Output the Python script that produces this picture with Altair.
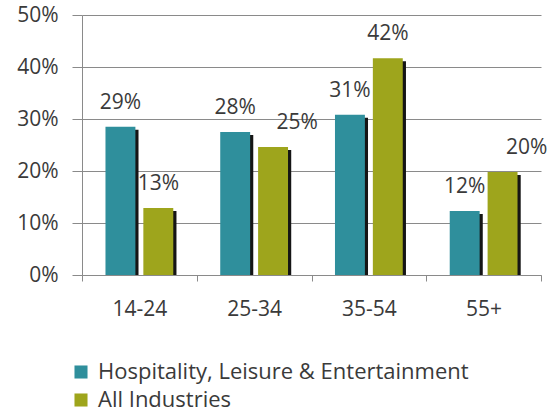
import altair as alt
import pandas as pd

categories = ["14-24", "25-34", "35-54", "55+"]
series = ["Hospitality, Leisure & Entertainment", "All Industries"]
hospitality = [28.5, 27.5, 30.8, 12.3]
all_industries = [12.9, 24.6, 41.7, 19.8]
hosp_labels = ["29%", "28%", "31%", "12%"]
all_labels = ["13%", "25%", "42%", "20%"]
y_ticks = [0, 10, 20, 30, 40, 50]

rows = []
for i, c in enumerate(categories):
    rows.append({"age": c, "series": series[0], "value": hospitality[i], "label": hosp_labels[i], "nudge": False})
    rows.append({"age": c, "series": series[1], "value": all_industries[i], "label": all_labels[i],
                 "nudge": c in ("25-34", "55+")})
df = pd.DataFrame(rows)

FONT = "Open Sans"
TXT = "#3a3a3a"
GRID = "#8a8a8a"

x = alt.X("age:N", sort=categories, title=None,
          scale=alt.Scale(paddingInner=0, paddingOuter=0),
          axis=alt.Axis(labelAngle=0, tickBand="extent", ticks=True, tickSize=6, tickColor=GRID,
                        domainColor=GRID, labelFont=FONT, labelFontSize=21, labelColor=TXT,
                        labelPadding=17, grid=False))
xo = alt.XOffset("series:N", sort=series,
                 scale=alt.Scale(paddingInner=0.21, paddingOuter=0.62))
xo_shadow = alt.XOffset("series:N", sort=series,
                        scale=alt.Scale(paddingInner=0.21, paddingOuter=0.62, range=[3, 118]))
y = alt.Y("value:Q", title=None,
          scale=alt.Scale(domain=[0, 50], nice=False),
          axis=alt.Axis(values=y_ticks, labelExpr="datum.value + '%'", grid=True, gridColor=GRID,
                        domainColor=GRID, tickColor=GRID, tickSize=10, labelPadding=14,
                        labelFont=FONT, labelFontSize=21, labelColor=TXT))

base = alt.Chart(df)

shadow = base.mark_bar(color="#151515", yOffset=3, clip=True).encode(
    x=x, xOffset=xo_shadow, y=y)

bars = base.mark_bar().encode(
    x=x, xOffset=xo, y=y,
    color=alt.Color("series:N", sort=series,
                    scale=alt.Scale(domain=series, range=["#2f8f9c", "#9ea51c"]),
                    legend=alt.Legend(title=None, orient="none", legendX=-12, legendY=346,
                                      direction="vertical", symbolType="square", symbolSize=170,
                                      symbolStrokeWidth=0, labelFont=FONT, labelFontSize=22,
                                      labelColor=TXT, rowPadding=6, labelOffset=6, padding=0,
                                      labelLimit=0)))

text_style = dict(font=FONT, fontSize=21, color=TXT, baseline="alphabetic", dy=-18)

text_hosp = base.transform_filter(alt.datum.series == series[0]).mark_text(
    dx=-19, **text_style).encode(x=x, y=y, text="label:N")

text_all = base.transform_filter((alt.datum.series == series[1]) & ~alt.datum.nudge).mark_text(
    dx=19, **text_style).encode(x=x, y=y, text="label:N")

text_all_nudged = base.transform_filter((alt.datum.series == series[1]) & alt.datum.nudge).mark_text(
    dx=43, **text_style).encode(x=x, y=y, text="label:N")

chart = alt.layer(shadow, bars, text_hosp, text_all, text_all_nudged).resolve_scale(
    xOffset="independent"
).properties(
    width=459, height=260,
    autosize=alt.AutoSizeParams(type="none"),
    padding={"left": 82, "top": 15, "right": 15, "bottom": 138},
    background="white",
).configure_view(stroke=None)

chart.save("out.html", embed_options={"renderer": "svg", "actions": False})
